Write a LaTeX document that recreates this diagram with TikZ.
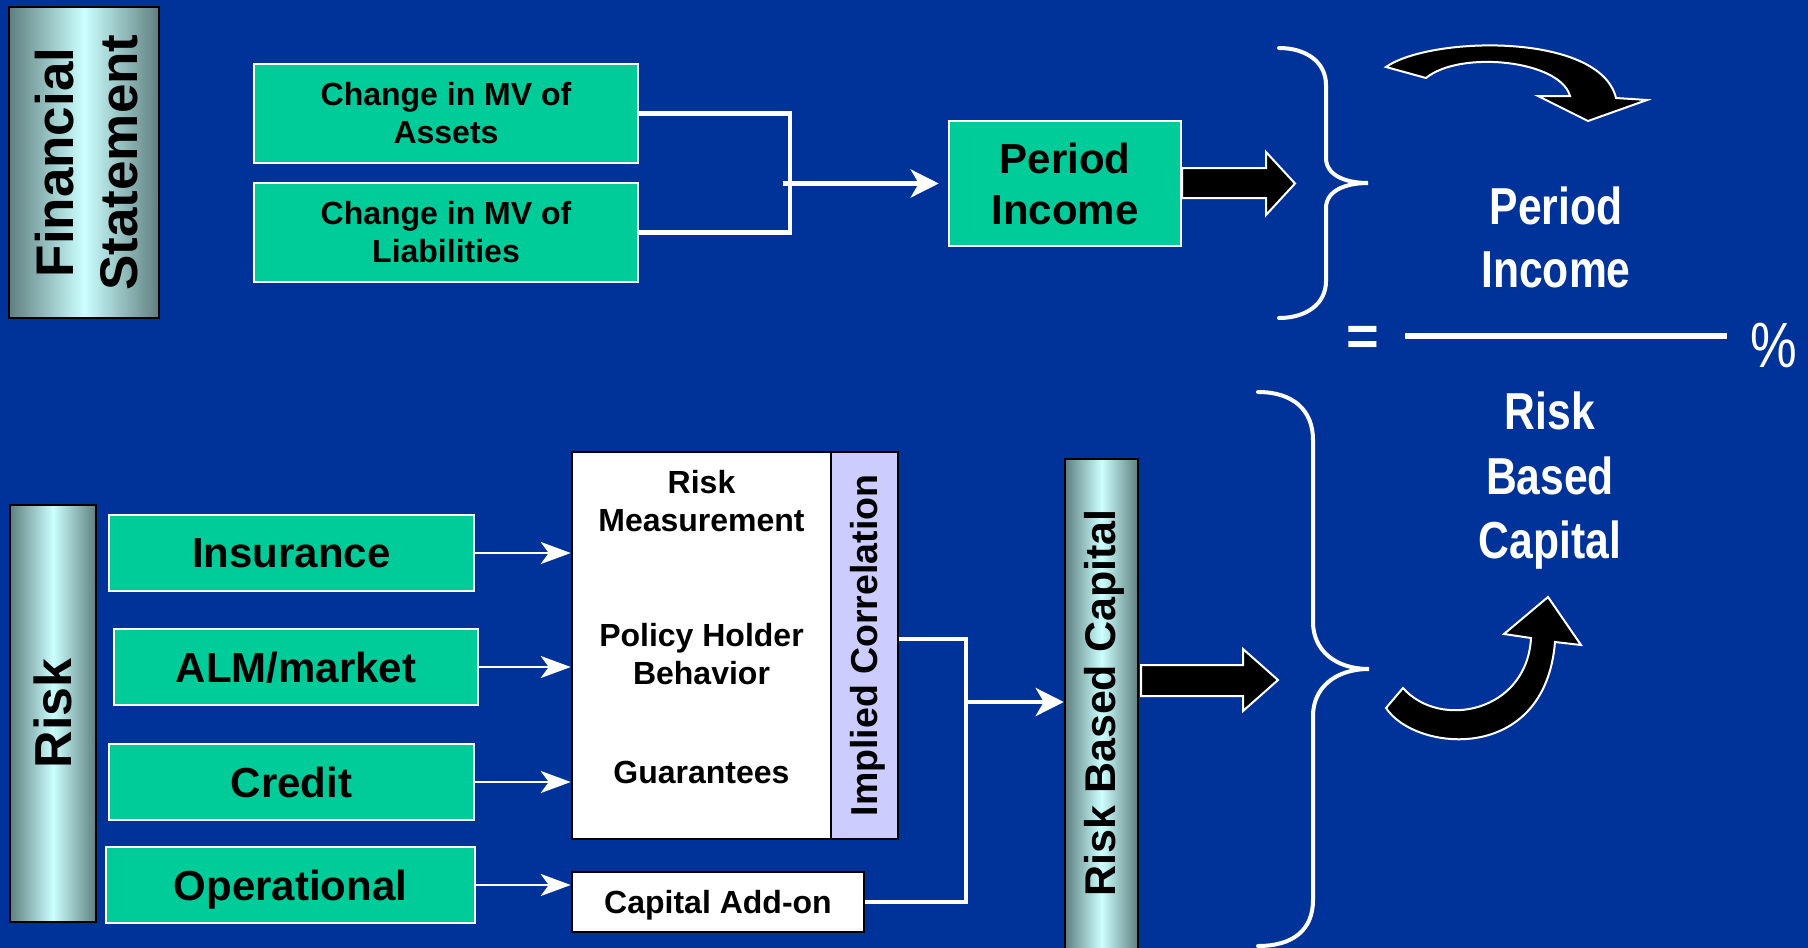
\documentclass[tikz,border=0pt]{standalone}
\usepackage{fontspec}
\setmainfont{Liberation Sans}
\newfontfamily\narrowfont{Liberation Sans}[FakeStretch=0.82]
\usetikzlibrary{arrows.meta,calc}

\definecolor{bgblue}{HTML}{003399}
\definecolor{boxgreen}{HTML}{00CC99}
\definecolor{lavender}{HTML}{CCCCFF}
\definecolor{baredge}{HTML}{5F7F7F}
\definecolor{barlight}{HTML}{CCFFFF}

\begin{document}
\begin{tikzpicture}[x=1pt,y=-1pt,
  gbox/.style={draw=white, line width=2.5pt, fill=boxgreen, inner sep=0pt, align=center},
  wbox/.style={draw=black, line width=2.5pt, fill=white, inner sep=0pt},
  shadebar/.style={draw=black, line width=2.5pt, left color=baredge, right color=baredge,
    middle color=barlight, inner sep=0pt},
  wire/.style={draw=white, line width=4.5pt},
  thinwire/.style={draw=white, line width=2.8pt},
  bigtip/.style={-{Stealth[length=28pt,width=28pt,inset=8pt]}},
  smalltip/.style={-{Stealth[length=30pt,width=22pt,inset=8pt]}},
  solidarrow/.style={fill=black, draw=white, line width=2pt, line join=miter},
  brace/.style={draw=white, line width=4pt, line cap=round},
  bigwhite/.style={text=white, font=\narrowfont\bfseries\fontsize{52}{60}\selectfont,
    anchor=base, inner sep=0pt},
  boxtext/.style={font=\bfseries\fontsize{32}{38}\selectfont, align=center, inner sep=0pt},
  risktext/.style={font=\bfseries\fontsize{42}{50}\selectfont, text depth=0pt},
]
\useasboundingbox (0,0) rectangle (1808,948);
\fill[bgblue] (0,0) rectangle (1808,948);
\clip (0,0) rectangle (1808,948);

% ---------- financial statement part ----------
\node[shadebar, minimum width=150pt, minimum height=311pt] (fs) at (84,162.5) {};
\node[rotate=90, align=center, inner sep=0pt,
  font=\bfseries\fontsize{53}{64}\selectfont] (fslabel) at (86.5,162.5) {Financial\\Statement};

\node[gbox, boxtext, minimum width=384pt, minimum height=99pt] (assets) at (446,113.5)
  {Change in MV of\\Assets};
\node[gbox, boxtext, minimum width=384pt, minimum height=99pt] (liab) at (446,232.5)
  {Change in MV of\\Liabilities};

\node[gbox, font=\bfseries\fontsize{42}{51}\selectfont, minimum width=232pt,
  minimum height=125pt] (period) at (1065,183.5) {Period\\Income};

\coordinate (jt) at (790,113.5);
\coordinate (jb) at (790,232.5);
\coordinate (jm) at (783,183.5);
\draw[wire] (assets.east) -- (jt) -- (jb) -- (liab.east);
\draw[wire, bigtip, shorten >=9pt] (jm) -- (period.west);

% block arrow out of the period income box
\draw[solidarrow] (1182,168) -- (1266,168) -- (1266,152) -- (1295,183.5)
  -- (1266,215) -- (1266,198) -- (1182,198) -- cycle;

% upper brace
\draw[brace] (1279,48) .. controls (1306,48) and (1326,62) .. (1326,85) -- (1326,158)
  .. controls (1326,175) and (1345,183) .. (1368,183)
  .. controls (1345,183) and (1326,191) .. (1326,208) -- (1326,281)
  .. controls (1326,304) and (1306,318) .. (1279,318);

% upper curved arrow
\draw[solidarrow] (1386,67) .. controls (1430,36) and (1600,32) .. (1616,98)
  -- (1647,100) -- (1588,121) -- (1538,96) -- (1570,96)
  .. controls (1560,60) and (1460,50) .. (1426,78) -- cycle;

% ratio
\node[bigwhite] (num1) at (1556,224) {Period};
\node[bigwhite] (num2) at (1556,287) {Income};
\node[text=white, inner sep=0pt, font=\bfseries\fontsize{56}{60}\selectfont] (eq) at (1363,341) {=};
\draw[white, line width=5.5pt] (1405,336) -- (1727,336);
\node[text=white, inner sep=0pt, font=\narrowfont\fontsize{64}{70}\selectfont] (pct) at (1774,345) {\%};
\node[bigwhite] (den1) at (1550,429) {Risk};
\node[bigwhite] (den2) at (1550,494) {Based};
\node[bigwhite] (den3) at (1550,558) {Capital};

% ---------- risk part ----------
\node[shadebar, minimum width=86pt, minimum height=417pt] (risk) at (53,713.5) {};
\node[rotate=90, inner sep=0pt, font=\bfseries\fontsize{52}{60}\selectfont] (risklabel)
  at (risk.center) {Risk};

\node[gbox, risktext, minimum width=365pt, minimum height=76pt] (ins) at (291.5,553) {Insurance};
\node[gbox, risktext, minimum width=364pt, minimum height=76pt] (alm) at (296,667) {ALM/market};
\node[gbox, risktext, minimum width=365pt, minimum height=76pt] (cred) at (291.5,782) {Credit};
\node[gbox, risktext, minimum width=369pt, minimum height=76pt] (op) at (290.5,885) {Operational};

\node[wbox, minimum width=259pt, minimum height=387pt] (rm) at (701.5,645.5) {};
\node[draw=black, line width=2.5pt, fill=lavender, inner sep=0pt, minimum width=67pt,
  minimum height=387pt] (ic) at (864.5,645.5) {};
\node[rotate=90, inner sep=0pt, font=\bfseries\fontsize{37.5}{42}\selectfont] (iclabel)
  at (867.5,645.5) {Implied Correlation};

\node[boxtext] (rm1) at (701.5,501) {Risk\\Measurement};
\node[boxtext] (rm2) at (701.5,654.5) {Policy Holder\\Behavior};
\node[boxtext, anchor=base] (rm3) at (701.5,783) {Guarantees};

\node[wbox, boxtext, text depth=0pt, minimum width=292pt, minimum height=60pt] (addon)
  at (718,902) {Capital Add-on};

\draw[thinwire, smalltip] (ins.east) -- (ins.east -| rm.west);
\draw[thinwire, smalltip] (alm.east) -- (alm.east -| rm.west);
\draw[thinwire, smalltip] (cred.east) -- (cred.east -| rm.west);
\draw[thinwire, smalltip] (op.east) -- (op.east -| addon.west);

\node[shadebar, minimum width=73pt, minimum height=501pt] (rbc) at (1101.5,709.5) {};
\node[rotate=90, inner sep=0pt, font=\bfseries\fontsize{43}{48}\selectfont] (rbclabel)
  at (1104.5,703) {Risk Based Capital};

\coordinate (jr) at (966,702);
\draw[wire] ([yshift=6.5pt]ic.east) -| (jr) |- (addon.east);
\draw[wire, bigtip] (jr) -- (jr -| rbc.west);

% block arrow out of the capital bar
\draw[solidarrow] (1141,665) -- (1243,665) -- (1243,649) -- (1278,680)
  -- (1243,711) -- (1243,696) -- (1141,696) -- cycle;

% lower brace
\draw[brace] (1258,392) .. controls (1293,392) and (1313,410) .. (1313,440) -- (1313,622)
  .. controls (1313,650) and (1335,669) .. (1369,669)
  .. controls (1335,669) and (1313,688) .. (1313,716) -- (1313,900)
  .. controls (1313,930) and (1293,946) .. (1258,946);

% lower curved arrow
\draw[solidarrow] (1386,708) .. controls (1415,752) and (1545,765) .. (1555,642)
  -- (1581,645) -- (1548,597) -- (1504,634) -- (1531,638)
  .. controls (1527,712) and (1440,730) .. (1403,688) -- cycle;
\end{tikzpicture}
\end{document}
